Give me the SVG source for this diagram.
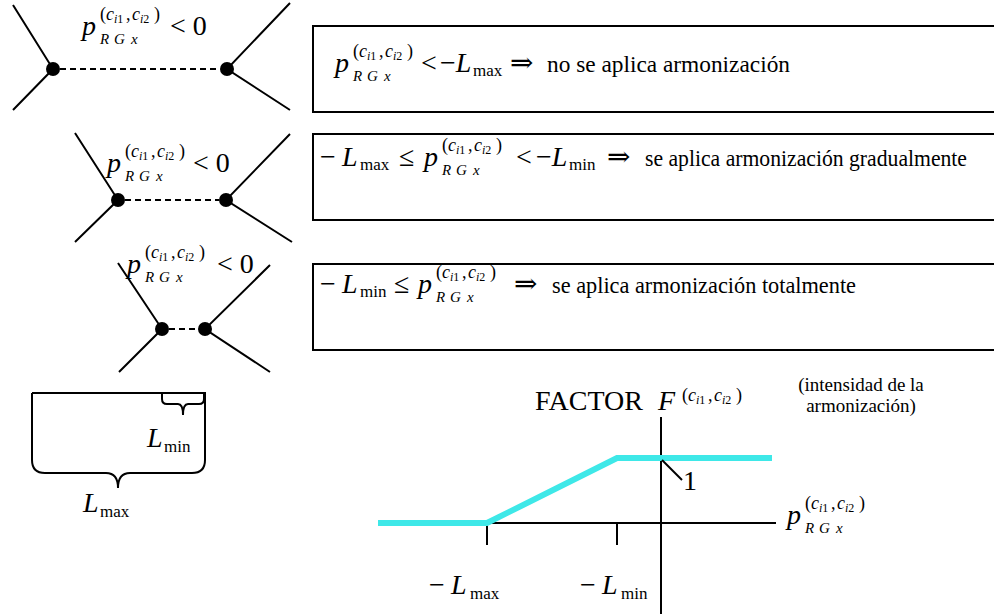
<svg xmlns="http://www.w3.org/2000/svg" width="994" height="614" viewBox="0 0 994 614">
<style>
text{font-family:"Liberation Serif","Times New Roman",serif;fill:#000}
.it{font-style:italic}
.m{font-size:28px}
.ar{font-size:28px;font-family:"DejaVu Serif","Liberation Serif",serif}
.sp{font-size:18px}
.ss{font-size:12px}
.sb{font-size:15px;font-style:italic}
.ix{font-size:17px}
.t{font-size:23.5px}
.ln{stroke:#000;stroke-width:2;fill:none}
.ds{stroke:#000;stroke-width:2;stroke-dasharray:6 4;fill:none}
.box{stroke:#000;stroke-width:2;fill:#fff}
.cy{stroke:#3ee8e8;stroke-width:6;fill:none}
.ax{stroke:#000;stroke-width:2;fill:none}
.sm{font-size:19px}
</style>
<rect width="994" height="614" fill="#fff"/>

<g id="connectors">
  <path class="ln" d="M13,5 L53,69 L13,110 M290,3 L227,69 L290,110"/>
  <path class="ds" d="M60,69 H220"/>
  <path class="ln" d="M75,133 L118,200 L75,242 M290,134 L226,200 L292,242"/>
  <path class="ds" d="M125,200 H219"/>
  <path class="ln" d="M118,263 L162,329 L119,372 M270,265 L205,329 L270,372"/>
  <path class="ds" d="M169,329 H198"/>
</g>

<g id="node-d1a"><circle cx="53" cy="69" r="7"/></g>
<g id="node-d1b"><circle cx="227" cy="69" r="7"/></g>
<g id="node-d2a"><circle cx="118" cy="200" r="7"/></g>
<g id="node-d2b"><circle cx="226" cy="200" r="7"/></g>
<g id="node-d3a"><circle cx="162" cy="329" r="7"/></g>
<g id="node-d3b"><circle cx="205" cy="329" r="7"/></g>

<g id="label-d1" transform="translate(82,35)">
  <text class="m it" x="0" y="0">p</text>
  <text class="sp" x="18" y="-15">(<tspan class="it">c</tspan></text>
  <text class="ss" x="32" y="-12"><tspan class="it">i</tspan>1</text>
  <text class="sp" x="44" y="-15">,<tspan class="it" x="50">c</tspan></text>
  <text class="ss" x="58" y="-12"><tspan class="it">i</tspan>2</text>
  <text class="sp" x="72" y="-15">)</text>
  <text class="sb" x="18" y="9">R</text><text class="sb" x="32" y="9">G</text><text class="sb" x="49" y="9">x</text>
  <text class="m" x="88" y="0">&lt; 0</text>
</g>
<g id="label-d2" transform="translate(107,172)">
  <text class="m it" x="0" y="0">p</text>
  <text class="sp" x="18" y="-15">(<tspan class="it">c</tspan></text>
  <text class="ss" x="32" y="-12"><tspan class="it">i</tspan>1</text>
  <text class="sp" x="44" y="-15">,<tspan class="it" x="50">c</tspan></text>
  <text class="ss" x="58" y="-12"><tspan class="it">i</tspan>2</text>
  <text class="sp" x="72" y="-15">)</text>
  <text class="sb" x="18" y="9">R</text><text class="sb" x="32" y="9">G</text><text class="sb" x="49" y="9">x</text>
  <text class="m" x="86" y="0">&lt; 0</text>
</g>
<g id="label-d3" transform="translate(127,273)">
  <text class="m it" x="0" y="0">p</text>
  <text class="sp" x="18" y="-15">(<tspan class="it">c</tspan></text>
  <text class="ss" x="32" y="-12"><tspan class="it">i</tspan>1</text>
  <text class="sp" x="44" y="-15">,<tspan class="it" x="50">c</tspan></text>
  <text class="ss" x="58" y="-12"><tspan class="it">i</tspan>2</text>
  <text class="sp" x="72" y="-15">)</text>
  <text class="sb" x="18" y="9">R</text><text class="sb" x="32" y="9">G</text><text class="sb" x="49" y="9">x</text>
  <text class="m" x="90" y="0">&lt; 0</text>
</g>

<g id="box1">
  <rect class="box" x="313" y="26" width="700" height="86"/>
  <g transform="translate(335,72)">
    <text class="m it" x="0" y="0">p</text>
    <text class="sp" x="18" y="-15">(<tspan class="it">c</tspan></text>
    <text class="ss" x="32" y="-12"><tspan class="it">i</tspan>1</text>
    <text class="sp" x="44" y="-15">,<tspan class="it" x="50">c</tspan></text>
    <text class="ss" x="58" y="-12"><tspan class="it">i</tspan>2</text>
    <text class="sp" x="72" y="-15">)</text>
    <text class="sb" x="18" y="9">R</text><text class="sb" x="32" y="9">G</text><text class="sb" x="49" y="9">x</text>
  </g>
  <text class="m" x="421" y="72">&lt;</text>
  <text class="m" x="440" y="72">−<tspan class="it">L</tspan></text>
  <text class="ix" x="473" y="76">max</text>
  <text class="ar" x="510" y="72">⇒</text>
  <text class="t" x="547" y="72" textLength="243" lengthAdjust="spacingAndGlyphs">no se aplica armonización</text>
</g>

<g id="box2">
  <rect class="box" x="313" y="134" width="700" height="86"/>
  <text class="m" x="320" y="166">−</text>
  <text class="m it" x="342" y="166">L</text>
  <text class="ix" x="360" y="170">max</text>
  <text class="m" x="399" y="166">≤</text>
  <g transform="translate(424,166)">
    <text class="m it" x="0" y="0">p</text>
    <text class="sp" x="18" y="-15">(<tspan class="it">c</tspan></text>
    <text class="ss" x="32" y="-12"><tspan class="it">i</tspan>1</text>
    <text class="sp" x="44" y="-15">,<tspan class="it" x="50">c</tspan></text>
    <text class="ss" x="58" y="-12"><tspan class="it">i</tspan>2</text>
    <text class="sp" x="72" y="-15">)</text>
    <text class="sb" x="18" y="9">R</text><text class="sb" x="32" y="9">G</text><text class="sb" x="49" y="9">x</text>
  </g>
  <text class="m" x="516" y="166">&lt;</text>
  <text class="m" x="536" y="166">−<tspan class="it">L</tspan></text>
  <text class="ix" x="569" y="170">min</text>
  <text class="ar" x="607" y="166">⇒</text>
  <text class="t" x="645" y="166" textLength="322" lengthAdjust="spacingAndGlyphs">se aplica armonización gradualmente</text>
</g>

<g id="box3">
  <rect class="box" x="313" y="264" width="700" height="86"/>
  <text class="m" x="320" y="293">−</text>
  <text class="m it" x="342" y="293">L</text>
  <text class="ix" x="360" y="297">min</text>
  <text class="m" x="394" y="293">≤</text>
  <g transform="translate(418,293)">
    <text class="m it" x="0" y="0">p</text>
    <text class="sp" x="18" y="-15">(<tspan class="it">c</tspan></text>
    <text class="ss" x="32" y="-12"><tspan class="it">i</tspan>1</text>
    <text class="sp" x="44" y="-15">,<tspan class="it" x="50">c</tspan></text>
    <text class="ss" x="58" y="-12"><tspan class="it">i</tspan>2</text>
    <text class="sp" x="72" y="-15">)</text>
    <text class="sb" x="18" y="9">R</text><text class="sb" x="32" y="9">G</text><text class="sb" x="49" y="9">x</text>
  </g>
  <text class="ar" x="514" y="293">⇒</text>
  <text class="t" x="552" y="293" textLength="304" lengthAdjust="spacingAndGlyphs">se aplica armonización totalmente</text>
</g>

<g id="brace-max">
  <path class="ln" d="M32,393 V460 Q32,473 45,473 H106 Q118,473 118,488 Q118,473 130,473 H192 Q205,473 205,460 V393 H32"/>
  <text class="m it" x="83" y="512">L</text>
  <text class="ix" x="100" y="517">max</text>
</g>
<g id="brace-min">
  <path class="ln" d="M162,393 V399 Q162,404 167,404 H178 Q183,404 183,415 Q183,404 188,404 H199 Q204,404 204,399 V393"/>
  <text class="m it" x="147" y="447">L</text>
  <text class="ix" x="164" y="452">min</text>
</g>

<g id="chart">
  <path class="ax" d="M378,523 H776 M661,417 V614 M487,523 V545 M617,523 V545"/>
  <path class="cy" d="M378,523 H487 L617,458 H772"/>
  <path class="ln" d="M662,460 L682,480" stroke-width="1.5"/>
  <text class="m" x="683" y="490">1</text>
  <text style="font-size:28px" x="535" y="410">FACTOR</text>
  <text class="m it" x="658" y="410">F</text>
  <g transform="translate(664,401)">
    <text class="sp" x="18" y="0">(<tspan class="it">c</tspan></text>
    <text class="ss" x="32" y="3"><tspan class="it">i</tspan>1</text>
    <text class="sp" x="44" y="0">,<tspan class="it" x="50">c</tspan></text>
    <text class="ss" x="58" y="3"><tspan class="it">i</tspan>2</text>
    <text class="sp" x="72" y="0">)</text>
  </g>
  <text class="sm" x="861" y="391" text-anchor="middle">(intensidad de la</text>
  <text class="sm" x="861" y="412" text-anchor="middle">armonización)</text>
  <g transform="translate(787,524)">
    <text class="m it" x="0" y="0">p</text>
    <text class="sp" x="18" y="-15">(<tspan class="it">c</tspan></text>
    <text class="ss" x="32" y="-12"><tspan class="it">i</tspan>1</text>
    <text class="sp" x="44" y="-15">,<tspan class="it" x="50">c</tspan></text>
    <text class="ss" x="58" y="-12"><tspan class="it">i</tspan>2</text>
    <text class="sp" x="72" y="-15">)</text>
    <text class="sb" x="18" y="9">R</text><text class="sb" x="32" y="9">G</text><text class="sb" x="49" y="9">x</text>
  </g>
  <text class="m" x="429" y="594">−</text>
  <text class="m it" x="451" y="594">L</text>
  <text class="ix" x="470" y="599">max</text>
  <text class="m" x="580" y="594">−</text>
  <text class="m it" x="602" y="594">L</text>
  <text class="ix" x="621" y="599">min</text>
</g>
</svg>
